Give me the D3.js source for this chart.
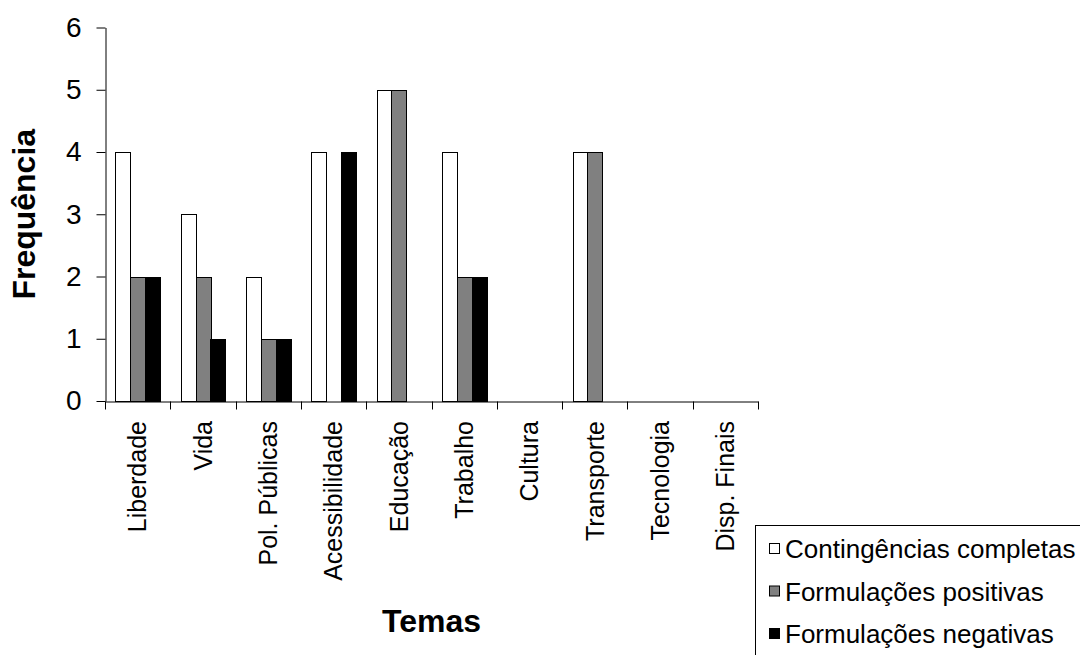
<!DOCTYPE html>
<html>
<head>
<meta charset="utf-8">
<script src="https://cdn.jsdelivr.net/npm/d3@7/dist/d3.min.js"></script>
<style>
  html, body { margin: 0; padding: 0; background: #fff; }
  svg { display: block; font-family: "Liberation Sans", Arial, sans-serif; }
</style>
</head>
<body>
<svg id="chart" width="1080" height="655"></svg>
<script>
// Themes (categories) and frequency of each formulation type
const categories = ["Liberdade", "Vida", "Pol. Públicas", "Acessibilidade", "Educação",
                    "Trabalho", "Cultura", "Transporte", "Tecnologia", "Disp. Finais"];
const seriesNames = ["Contingências completas", "Formulações positivas", "Formulações negativas"];
const contingenciasCompletas = [4, 3, 2, 4, 5, 4, 0, 4, 0, 0];
const formulacoesPositivas   = [2, 2, 1, 0, 5, 2, 0, 4, 0, 0];
const formulacoesNegativas   = [2, 1, 1, 4, 0, 2, 0, 0, 0, 0];
const yTicks = [0, 1, 2, 3, 4, 5, 6];
const seriesColors = ["#ffffff", "#808080", "#000000"];

const seriesValues = [contingenciasCompletas, formulacoesPositivas, formulacoesNegativas];

const svg = d3.select("#chart");

const plot = { left: 105, right: 758, top: 27.5, bottom: 401 };

const x = d3.scaleBand().domain(categories).range([plot.left, plot.right]).padding(0);
const bw = x.bandwidth();
const groupW = bw * 0.68;
const x1 = d3.scaleBand().domain(seriesNames)
  .range([(bw - groupW) / 2, (bw + groupW) / 2]).padding(0);
const y = d3.scaleLinear().domain([0, 6]).range([plot.bottom, plot.top]);

// Bars
const rows = [];
categories.forEach((c, i) => {
  seriesNames.forEach((s, j) => {
    const v = seriesValues[j][i];
    if (v > 0) rows.push({ c, s, v, color: seriesColors[j] });
  });
});

svg.append("g").selectAll("rect")
  .data(rows)
  .join("rect")
  .attr("x", d => Math.round(x(d.c) + x1(d.s)) + 0.5)
  .attr("y", d => Math.round(y(d.v)) + 0.5)
  .attr("width", Math.round(x1.bandwidth()))
  .attr("height", d => Math.round(y(0)) - Math.round(y(d.v)))
  .attr("fill", d => d.color)
  .attr("stroke", "#000")
  .attr("stroke-width", 1);

// Y axis
const yAxis = svg.append("g")
  .attr("transform", `translate(${Math.round(plot.left) + 0.5},0)`)
  .call(d3.axisLeft(y).tickValues(yTicks).tickFormat(d3.format("d"))
    .tickSize(9).tickSizeOuter(0).tickPadding(15));
yAxis.selectAll("text").attr("font-size", 28).attr("fill", "#000")
  .attr("font-family", "'Liberation Sans', Arial, sans-serif");
yAxis.selectAll("line, path").attr("stroke", "#000");

// X axis: line with ticks on band boundaries
const xAxis = svg.append("g")
  .attr("transform", `translate(0,${Math.round(plot.bottom) + 0.5})`)
  .call(d3.axisBottom(x).tickSize(0).tickSizeOuter(0).tickFormat(""));
xAxis.selectAll(".tick").remove();
xAxis.select("path").attr("stroke", "#000");
const bounds = categories.map(c => x(c)).concat([plot.right]);
xAxis.selectAll("line.bound")
  .data(bounds)
  .join("line")
  .attr("class", "bound")
  .attr("x1", d => Math.round(d) + 0.5)
  .attr("x2", d => Math.round(d) + 0.5)
  .attr("y1", 0)
  .attr("y2", 8)
  .attr("stroke", "#000");

// Category labels, rotated
svg.append("g").selectAll("text")
  .data(categories)
  .join("text")
  .attr("transform", d => `translate(${x(d) + bw / 2},421) rotate(-90)`)
  .attr("text-anchor", "end")
  .attr("dy", "0.35em")
  .attr("font-size", 25)
  .attr("fill", "#000")
  .text(d => d);

// Axis titles
svg.append("text")
  .attr("x", (plot.left + plot.right) / 2)
  .attr("y", 632)
  .attr("text-anchor", "middle")
  .attr("font-size", 32)
  .attr("font-weight", "bold")
  .text("Temas");

svg.append("text")
  .attr("transform", `translate(35,${(plot.top + plot.bottom) / 2}) rotate(-90)`)
  .attr("text-anchor", "middle")
  .attr("font-size", 32)
  .attr("font-weight", "bold")
  .text("Frequência");

// Legend
const legend = svg.append("g");
legend.append("rect")
  .attr("x", 755.5).attr("y", 525.5)
  .attr("width", 400).attr("height", 200)
  .attr("fill", "#fff").attr("stroke", "#000");

const rowY = d3.scalePoint().domain(seriesNames).range([549, 634]);
const item = legend.selectAll("g.item")
  .data(seriesNames)
  .join("g")
  .attr("class", "item")
  .attr("transform", d => `translate(0,${rowY(d)})`);
item.append("rect")
  .attr("x", 769.5).attr("y", -5.5)
  .attr("width", 10).attr("height", 10)
  .attr("fill", (d, i) => seriesColors[i])
  .attr("stroke", "#000");
item.append("text")
  .attr("x", 785)
  .attr("dy", "0.35em")
  .attr("font-size", 26)
  .attr("fill", "#000")
  .text(d => d);
</script>
</body>
</html>
